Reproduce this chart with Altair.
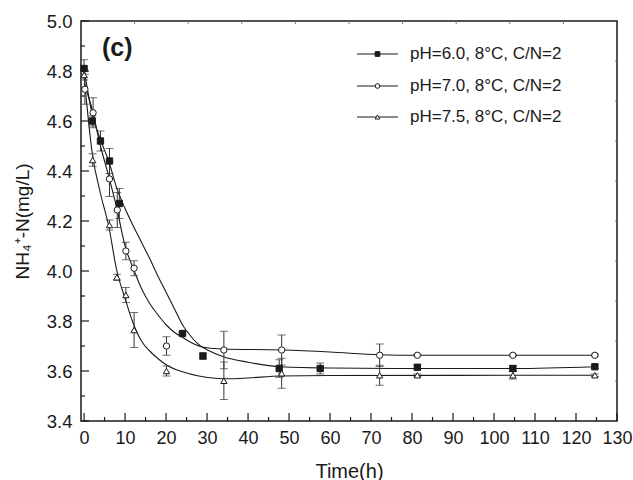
import altair as alt
import pandas as pd

# ---------------- data ----------------
labels = ["pH=6.0, 8°C, C/N=2", "pH=7.0, 8°C, C/N=2", "pH=7.5, 8°C, C/N=2"]

t1 = [0, 2, 4, 6.2, 8.6, 24, 29, 47.6, 57.6, 81.3, 104.6, 124.6]
y1 = [4.81, 4.60, 4.52, 4.44, 4.27, 3.75, 3.66, 3.61, 3.61, 3.615, 3.61, 3.617]
e1 = [0.035, 0.02, 0.04, 0.05, 0.06, 0.005, 0.012, 0.035, 0.022, 0.01, 0.012, 0.008]

t2 = [0.2, 2.2, 6.2, 8.1, 10.2, 12.2, 20.1, 34.1, 48.2, 72.1, 81.3, 104.6, 124.6]
y2 = [4.727, 4.633, 4.368, 4.244, 4.08, 4.011, 3.70, 3.684, 3.684, 3.663, 3.663, 3.663, 3.663]
e2 = [0.06, 0.06, 0.07, 0.07, 0.035, 0.03, 0.037, 0.075, 0.06, 0.045, 0.004, 0.004, 0.004]

t3 = [0, 2.1, 6.2, 8, 10.2, 12.2, 20.1, 34.1, 48.2, 72.1, 81.3, 104.6, 124.6]
y3 = [4.784, 4.444, 4.184, 3.975, 3.904, 3.764, 3.60, 3.561, 3.591, 3.583, 3.583, 3.583, 3.583]
e3 = [0.02, 0.025, 0.02, 0.012, 0.03, 0.07, 0.02, 0.075, 0.06, 0.04, 0.005, 0.015, 0.005]

# fitted curves
c1t = [0, 2, 4, 6, 8, 10, 12, 14, 16, 18, 20, 22, 24, 26, 28, 30, 34, 40, 48, 60, 80, 105, 124.6]
c1y = [4.81, 4.625, 4.525, 4.44, 4.33, 4.25, 4.18, 4.115, 4.05, 3.98, 3.915, 3.85, 3.785, 3.74, 3.705,
       3.685, 3.657, 3.635, 3.617, 3.612, 3.61, 3.61, 3.617]
c2t = [0, 2, 4, 6, 8, 10, 12, 14, 16, 18, 20, 22, 24, 26, 28, 30, 34, 48, 60, 72, 81.3, 124.6]
c2y = [4.75, 4.645, 4.50, 4.38, 4.25, 4.10, 4.01, 3.93, 3.87, 3.825, 3.785, 3.755, 3.735, 3.715, 3.70,
       3.693, 3.688, 3.684, 3.676, 3.665, 3.663, 3.663]
c3t = [0, 2, 4, 6, 8, 10, 12, 14, 16, 18, 20, 24, 28, 32, 36, 40, 48, 60, 124.6]
c3y = [4.78, 4.47, 4.31, 4.18, 4.00, 3.89, 3.79, 3.72, 3.68, 3.65, 3.625, 3.597, 3.58, 3.571, 3.569,
       3.572, 3.58, 3.582, 3.583]

x_major = list(range(0, 131, 10))
x_minor = list(range(5, 130, 10))
y_major = [3.4, 3.6, 3.8, 4.0, 4.2, 4.4, 4.6, 4.8, 5.0]
y_minor = [3.5, 3.7, 3.9, 4.1, 4.3, 4.5, 4.7, 4.9]

# ---------------- layout / style ----------------
W, H = 536, 400
XMIN, XMAX = -0.75, 130
YMIN, YMAX = 3.4, 5.0
FONT = "Liberation Sans"
INK = "#1a1a1a"

top_ticks = [XMIN + (XMAX - XMIN) * k / 10 for k in range(1, 10)]
right_ticks = [YMIN + (YMAX - YMIN) * k / 10 for k in range(1, 10)]

xs = alt.Scale(domain=[XMIN, XMAX], nice=False, zero=False)
ys = alt.Scale(domain=[YMIN, YMAX], nice=False, zero=False)

x_axis = alt.Axis(values=x_major, format="d", ticks=False, domain=False, grid=False,
                  labelOverlap=False, labelFlush=False,
                  labelFont=FONT, labelFontSize=18, labelColor=INK, labelPadding=8,
                  title="Time(h)", titleFont=FONT, titleFontSize=20, titleFontWeight="normal",
                  titleColor=INK, titlePadding=14)
y_axis = alt.Axis(values=y_major, format=".1f", ticks=False, domain=False, grid=False,
                  labelOverlap=False, labelFlush=False,
                  labelFont=FONT, labelFontSize=18.5, labelColor=INK, labelPadding=9,
                  title="NH₄⁺-N(mg/L)", titleFont=FONT, titleFontSize=19, titleFontWeight="normal",
                  titleColor=INK, titlePadding=14)

def X(f):
    return alt.X(f, type="quantitative", scale=xs, axis=x_axis)

def Y(f):
    return alt.Y(f, type="quantitative", scale=ys, axis=y_axis)

layers = []

series = [(t1, y1, e1, c1t, c1y, "square", INK),
          (t2, y2, e2, c2t, c2y, "circle", "white"),
          (t3, y3, e3, c3t, c3y, "triangle-up", "white")]

# curves
for (t, y, e, ct, cy, shp, fill) in series:
    cdf = pd.DataFrame({"t": ct, "v": cy})
    layers.append(alt.Chart(cdf).mark_line(color=INK, strokeWidth=1.1, interpolate="monotone",
                                           clip=True).encode(x=X("t"), y=Y("v")))

# error bars
for (t, y, e, ct, cy, shp, fill) in series:
    edf = pd.DataFrame({"t": t, "lo": [a - b for a, b in zip(y, e)], "hi": [a + b for a, b in zip(y, e)]})
    layers.append(alt.Chart(edf).mark_rule(color="#333333", strokeWidth=1).encode(
        x=X("t"), y=Y("lo"), y2="hi"))
    layers.append(alt.Chart(edf).mark_tick(color="#333333", orient="horizontal", size=8, thickness=1).encode(
        x=X("t"), y=Y("hi")))
    layers.append(alt.Chart(edf).mark_tick(color="#333333", orient="horizontal", size=8, thickness=1).encode(
        x=X("t"), y=Y("lo")))

# points
for (t, y, e, ct, cy, shp, fill) in series:
    pdf = pd.DataFrame({"t": t, "v": y})
    layers.append(alt.Chart(pdf).mark_point(shape=shp, filled=True, fill=fill, stroke=INK,
                                            strokeWidth=1, size=40, opacity=1).encode(
        x=X("t"), y=Y("v")))

# inward ticks
def vrule(vals, y0, y1_, w=1, col=INK):
    return alt.Chart(pd.DataFrame({"v": vals})).mark_rule(color=col, strokeWidth=w).encode(
        x=X("v"), y=alt.value(y0), y2=alt.value(y1_))

def hrule(vals, x0, x1_, w=1, col=INK):
    return alt.Chart(pd.DataFrame({"v": vals})).mark_rule(color=col, strokeWidth=w).encode(
        y=Y("v"), x=alt.value(x0), x2=alt.value(x1_))

layers.append(vrule(x_major, H, H - 8, 1.2))
layers.append(vrule(x_minor, H, H - 4, 1.2))
layers.append(hrule(y_major, 0, 8, 1.2))
layers.append(hrule(y_minor, 0, 4, 1.2))
layers.append(vrule(top_ticks, 0, 3, 1, "#777777"))
layers.append(hrule(right_ticks, W, W - 2, 1, "#777777"))

# panel label
one = pd.DataFrame({"k": [0]})
layers.append(alt.Chart(one).mark_text(text="(c)", font=FONT, fontSize=25, fontWeight="bold",
                                       align="left", baseline="middle", color=INK).encode(
    x=alt.value(21), y=alt.value(27)))

# manual legend
leg_y = [33, 65, 96]
for lab, ly, (t, y, e, ct, cy, shp, fill) in zip(labels, leg_y, series):
    layers.append(alt.Chart(one).mark_rule(color=INK, strokeWidth=1.1).encode(
        x=alt.value(276), x2=alt.value(317), y=alt.value(ly)))
    layers.append(alt.Chart(one).mark_point(shape=shp, filled=True, fill=fill, stroke=INK,
                                            strokeWidth=1, size=22, opacity=1).encode(
        x=alt.value(296.5), y=alt.value(ly)))
    layers.append(alt.Chart(one).mark_text(text=lab, font=FONT, fontSize=17, align="left",
                                           baseline="middle", color=INK).encode(
        x=alt.value(329), y=alt.value(ly)))

chart = alt.layer(*layers).properties(
    width=W, height=H,
    autosize=alt.AutoSizeParams(type="none"),
    padding={"left": 81, "top": 21, "right": 16, "bottom": 59},
    background="white",
).configure_view(stroke=INK, strokeWidth=1.5)

chart.save("out.html", embed_options={"renderer": "svg", "actions": False})
